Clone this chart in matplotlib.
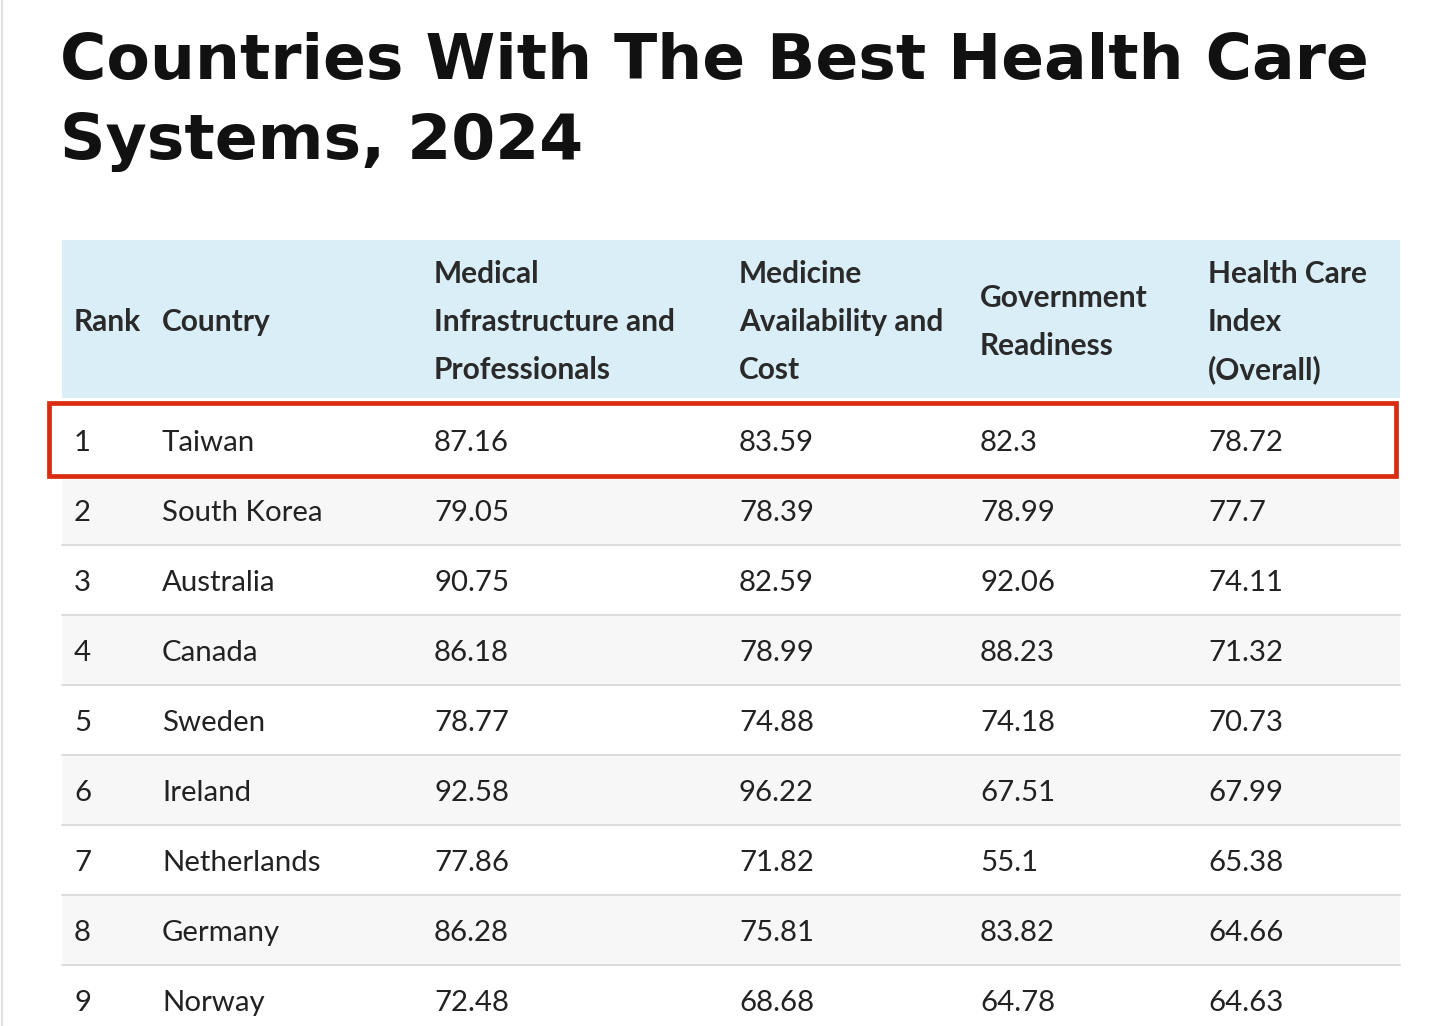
import matplotlib
matplotlib.use("Agg")
import matplotlib.pyplot as plt
from matplotlib.patches import Rectangle

title_lines = ["Countries With The Best Health Care", "Systems, 2024"]
headers = [["Rank"], ["Country"], ["Medical", "Infrastructure and", "Professionals"],
           ["Medicine", "Availability and", "Cost"], ["Government", "Readiness"],
           ["Health Care", "Index", "(Overall)"]]
ranks = [1, 2, 3, 4, 5, 6, 7, 8, 9]
countries = ["Taiwan", "South Korea", "Australia", "Canada", "Sweden", "Ireland",
             "Netherlands", "Germany", "Norway"]
medical = ["87.16", "79.05", "90.75", "86.18", "78.77", "92.58", "77.86", "86.28", "72.48"]
medicine = ["83.59", "78.39", "82.59", "78.99", "74.88", "96.22", "71.82", "75.81", "68.68"]
government = ["82.3", "78.99", "92.06", "88.23", "74.18", "67.51", "55.1", "83.82", "64.78"]
overall = ["78.72", "77.7", "74.11", "71.32", "70.73", "67.99", "65.38", "64.66", "64.63"]

W, H = 1454, 1026
fig = plt.figure(figsize=(W/100, H/100), dpi=100)
ax = fig.add_axes([0, 0, 1, 1])
ax.set_xlim(0, W); ax.set_ylim(H, 0); ax.axis("off")

for i, t in enumerate(title_lines):
    ax.text(60, 62 + i*80, t, fontsize=45.5, fontweight="bold", family="DejaVu Sans",
            va="center", ha="left", color="#111111")

col_x = [74, 162, 434, 739, 980, 1208]
left, right = 62, 1400
hdr_top, hdr_bot = 240, 398
ax.add_patch(Rectangle((left, hdr_top), right-left, hdr_bot-hdr_top, color="#daeef7", lw=0))
hc = (hdr_top + hdr_bot)/2 + 3
for x, h in zip(col_x, headers):
    n = len(h)
    for j, line in enumerate(h):
        ax.text(x, hc + (j - (n-1)/2)*48, line, fontsize=21.5, fontweight="bold",
                family="Lato", va="center", ha="left", color="#2a2a2a")

row_top, row_h = 405, 70
cols = [[str(r) for r in ranks], countries, medical, medicine, government, overall]
for i in range(len(ranks)):
    y0 = row_top + i*row_h
    if i % 2 == 1:
        ax.add_patch(Rectangle((left, y0), right-left, row_h, color="#f7f7f7", lw=0))
    if i > 0:
        ax.plot([left, right], [y0 + row_h, y0 + row_h], color="#d6d6d6", lw=1.2)
    for x, c in zip(col_x, cols):
        ax.text(x, y0 + row_h/2 + 3, c[i], fontsize=21.2, family="Lato",
                va="center", ha="left", color="#222222")

ax.add_patch(Rectangle((49, 403), 1347, 73, fill=False, ec="#d92b10", lw=3.4))
ax.plot([1.5, 1.5], [0, H], color="#e0e0e0", lw=1.5)

fig.savefig("out.png", dpi=100, facecolor="white")
